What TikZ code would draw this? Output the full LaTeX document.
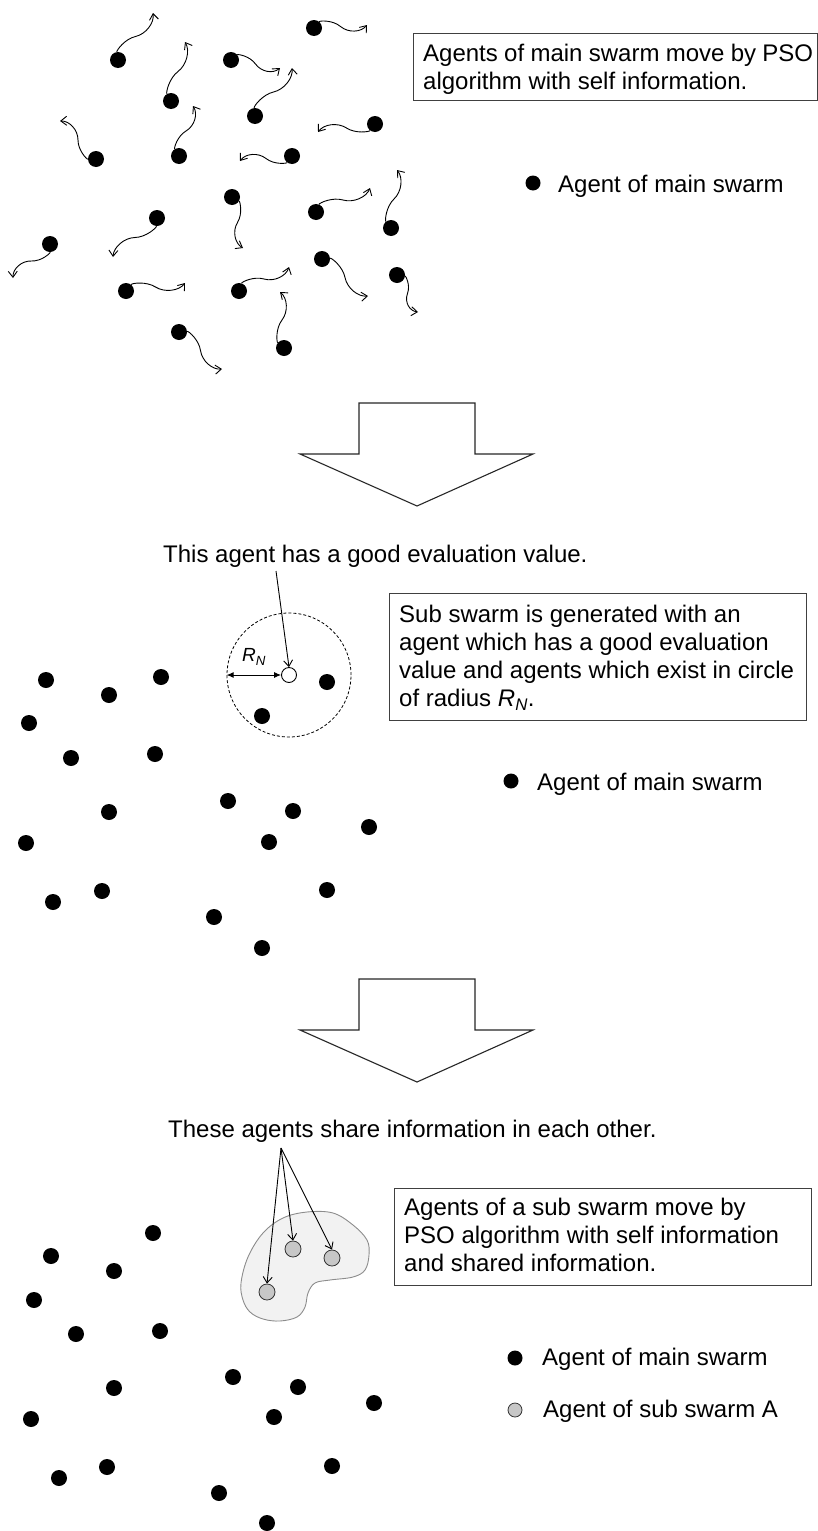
\documentclass[tikz,border=0pt]{standalone}
\usepackage{fontspec}
\setmainfont{Liberation Sans}
\usetikzlibrary{calc,arrows.meta}
\begin{document}
\begin{tikzpicture}[x=1pt,y=-1pt,
  every node/.style={font=\fontsize{24}{28.3}\selectfont},
  agent/.style={circle,fill=black,inner sep=0pt,minimum size=16pt},
  subagent/.style={circle,draw=black!80,fill=black!22,line width=0.8pt,inner sep=0pt,minimum size=16pt},
  goodagent/.style={circle,draw=black,fill=white,line width=0.9pt,inner sep=0pt,minimum size=15pt},
  framebox/.style={draw=black!75,line width=1.1pt,inner sep=0pt,anchor=north west},
  plaintext/.style={anchor=base west,inner sep=0pt},
  pointer/.style={line width=0.9pt,-{Straight Barb[length=6pt,width=9pt]}},
  blockarrow/.style={draw=black!85,line width=1.1pt,fill=white,line join=miter},
  wiggle/.style={line width=0.9pt,-{Straight Barb[length=6pt,width=9pt]},
    to path={.. controls ($(\tikztostart)!0.12!(\tikztotarget)!7pt!90:(\tikztotarget)$)
                     and ($(\tikztostart)!0.36!(\tikztotarget)!7pt!90:(\tikztotarget)$)
             .. ($(\tikztostart)!0.5!(\tikztotarget)$)
             .. controls ($(\tikztostart)!0.64!(\tikztotarget)!7pt!-90:(\tikztotarget)$)
                     and ($(\tikztostart)!0.88!(\tikztotarget)!7pt!-90:(\tikztotarget)$)
             .. (\tikztotarget)}}
]
\useasboundingbox (0,0) rectangle (818,1531);

% ---------- stage 1: main swarm moving ----------
\foreach \x/\y/\u/\v [count=\i] in {
  118/60/153/13, 314/28/367/25, 171/101/185/42, 231/60/280/68,
  255/116/292/68, 96/159/60/121, 179/156/193/106, 375/124/318/132,
  292/156/240/161, 232/197/243/248, 316/212/370/188, 391/228/397/170,
  157/218/113/257, 50/244/13/278, 126/291/185/283, 239/291/289/267,
  322/259/368/296, 397/275/418/312, 179/332/222/369, 284/348/280/292} {
  \node[agent] (a\i) at (\x,\y) {};
  \coordinate (t\i) at (\u,\v);
  \draw[wiggle] (a\i) to (t\i);
}

\node[framebox,minimum width=404pt,minimum height=67pt] (box1) at (413,33) {};
\node[plaintext] (box1text) at (423,61)
  {\parbox[t]{390pt}{Agents of main swarm move by PSO\\algorithm with self information.}};

\node[agent,minimum size=15pt] (leg1) at (533,183) {};
\node[plaintext] (leg1text) at (558,192) {Agent of main swarm};

\draw[blockarrow] (359,403) -- (475,403) -- (475,454) -- (533,454) -- (417,506)
  -- (300,454) -- (359,454) -- cycle;

% ---------- stage 2: sub swarm generation ----------
\node[plaintext] (title2) at (163,562) {This agent has a good evaluation value.};

\foreach \x/\y [count=\i] in {
  46/680, 109/695, 161/677, 29/723, 71/758, 155/754, 109/812, 228/801,
  293/811, 369/827, 269/842, 26/843, 102/891, 53/902, 327/890, 214/917,
  262/948, 327/682, 262/716} {
  \node[agent] (m\i) at (\x,\y) {};
}

\node[circle,draw=black,dashed,dash pattern=on 3pt off 2pt,line width=0.8pt,
      inner sep=0pt,minimum size=124pt] (rn) at (289,675) {};
\node[goodagent] (good) at (289,675) {};
\draw[line width=0.9pt,{Latex[length=7pt,width=6pt]}-{Latex[length=7pt,width=6pt]}]
  (rn.west) -- (good.west);
\node[font=\fontsize{19}{22}\selectfont,inner sep=0pt] (rnlabel) at (254,657)
  {\textit{R}\textsubscript{\textit{N}}};
\coordinate (p2) at (276,571);
\draw[pointer] (p2) -- (good.north);

\node[framebox,minimum width=417pt,minimum height=127pt] (box2) at (389,593) {};
\node[plaintext] (box2text) at (399,622)
  {\parbox[t]{400pt}{Sub swarm is generated with an\\agent which has a good evaluation\\value and agents which exist in circle\\of radius \textit{R}\textsubscript{\textit{N}}.}};

\node[agent,minimum size=15pt] (leg2) at (511,781) {};
\node[plaintext] (leg2text) at (537,790) {Agent of main swarm};

\draw[blockarrow] (359,979) -- (475,979) -- (475,1030) -- (533,1030) -- (417,1082)
  -- (300,1030) -- (359,1030) -- cycle;

% ---------- stage 3: sub swarm sharing information ----------
\node[plaintext] (title3) at (168,1137) {These agents share information in each other.};

\draw[draw=black!45,fill=black!5,line width=0.9pt] plot[smooth cycle,tension=0.6] coordinates {
  (241,1283) (248,1257) (263,1233) (283,1218) (307,1212) (333,1213) (353,1225)
  (367,1240) (369,1255) (365,1270) (353,1277) (330,1280) (315,1283) (308,1293)
  (305,1307) (297,1317) (280,1321) (263,1319) (250,1312) (243,1300)};

\node[subagent] (g1) at (293,1249) {};
\node[subagent] (g2) at (332,1258) {};
\node[subagent] (g3) at (267,1292) {};
\coordinate (p3) at (281,1148);
\draw[pointer] (p3) -- (g1.north);
\draw[pointer] (p3) -- (g2.north);
\draw[pointer] (p3) -- (g3.north);

\foreach \x/\y [count=\i] in {
  153/1233, 51/1256, 114/1271, 34/1300, 76/1334, 160/1331, 114/1388,
  233/1377, 298/1387, 374/1403, 274/1417, 31/1419, 107/1467, 59/1478,
  332/1466, 219/1493, 267/1523} {
  \node[agent] (s\i) at (\x,\y) {};
}

\node[framebox,minimum width=417pt,minimum height=97pt] (box3) at (394,1188) {};
\node[plaintext] (box3text) at (404,1215)
  {\parbox[t]{400pt}{Agents of a sub swarm move by\\PSO algorithm with self information\\and shared information.}};

\node[agent,minimum size=15pt] (leg3) at (515,1358) {};
\node[plaintext] (leg3text) at (542,1365) {Agent of main swarm};
\node[subagent,minimum size=14pt] (leg4) at (515,1410) {};
\node[plaintext] (leg4text) at (543,1417) {Agent of sub swarm A};
\end{tikzpicture}
\end{document}
